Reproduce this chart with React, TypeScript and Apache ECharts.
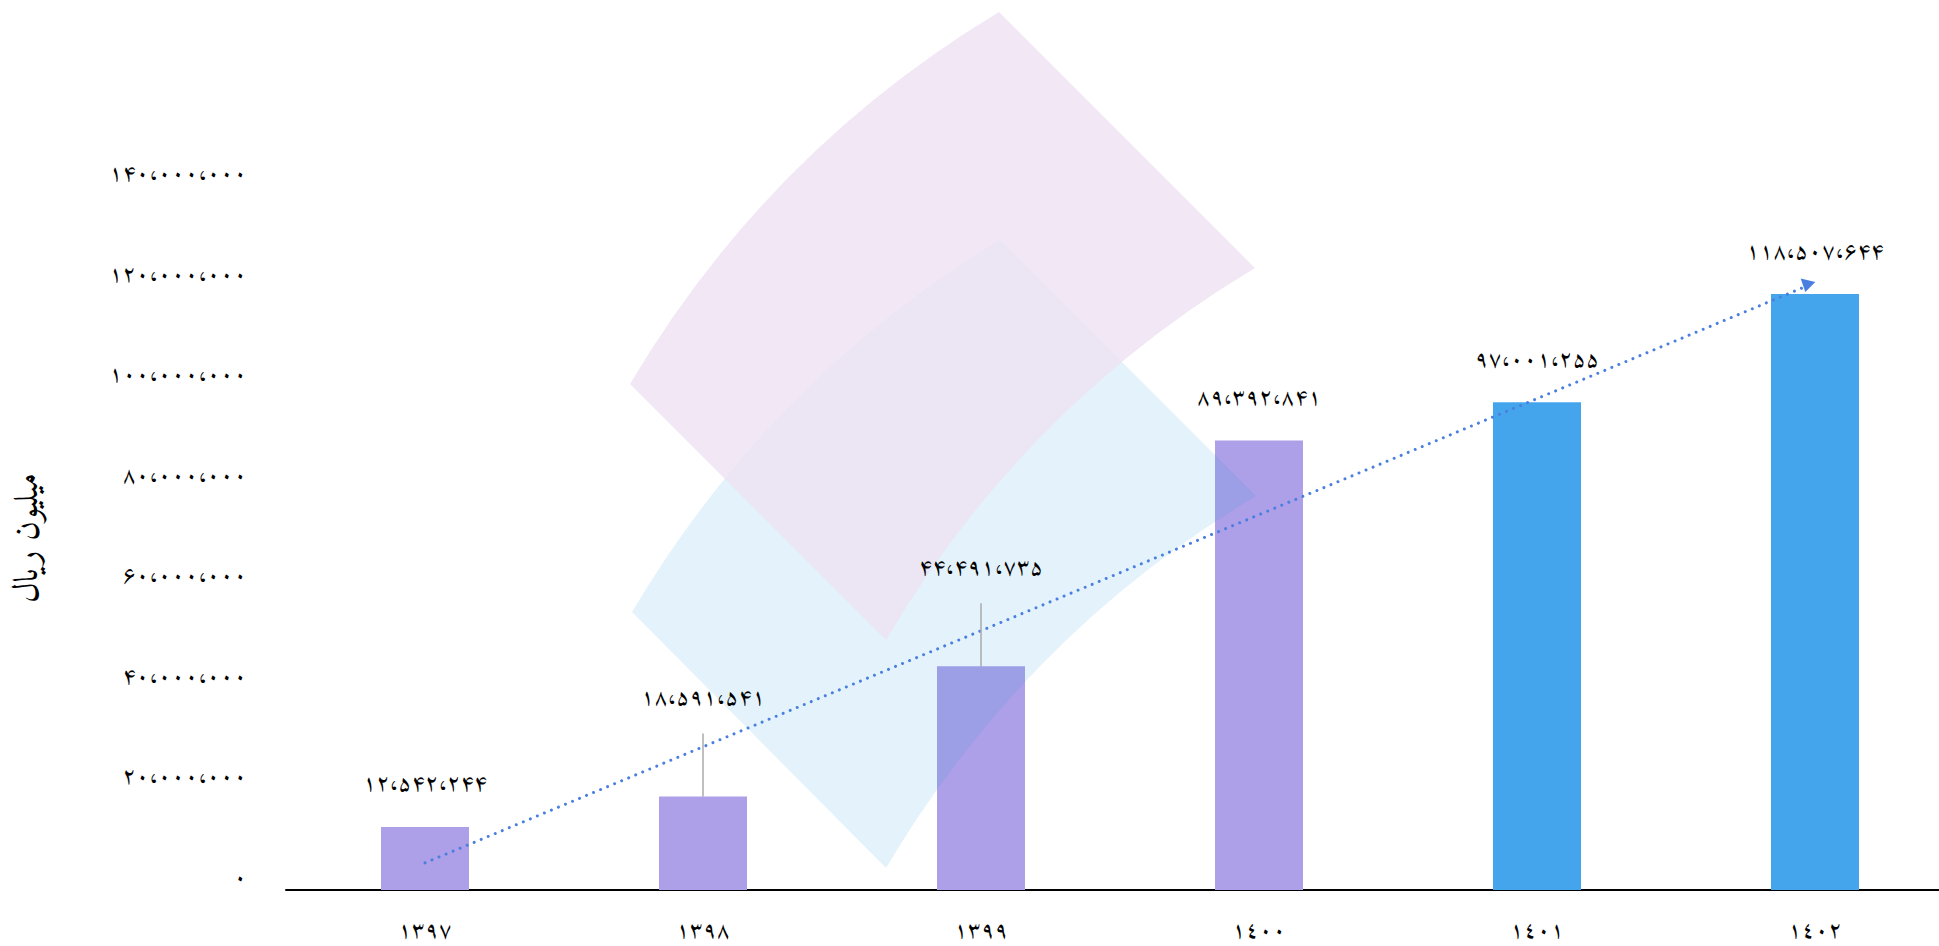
import React, { useEffect, useRef } from 'react';
import * as echarts from 'echarts';

// ---- data ----
const years = ['١٣٩٧', '١٣٩٨', '١٣٩٩', '١٤٠٠', '١٤٠١', '١٤٠٢'];
const values = [12542244, 18591541, 44491735, 89392841, 97001255, 118507644];
const barColors = ['#AD9FE8', '#AD9FE8', '#AD9FE8', '#AD9FE8', '#45A5EC', '#45A5EC'];
const movedLabels = [1, 2];
const trendStart = [0, 5400000];
const trendEnd = [4.97, 120100000];
const yMin = 0;
const yMax = 140000000;
const yInterval = 20000000;
const yAxisName = 'میلیون ریال';

const FONT = 'Amiri';
const faDigits = '۰۱۲۳۴۵۶۷۸۹';
function toFa(n: number): string {
  return Math.round(n)
    .toString()
    .replace(/\B(?=(\d{3})+(?!\d))/g, '،')
    .replace(/\d/g, (d) => faDigits[+d]);
}

// watermark logo shapes
const pinkPath = 'M630 384 Q768 151 999 12 L1255 268 Q1023 407 886 640 Z';
const bluePath = 'M632 612 Q770 379 1000 240 L1256 496 Q1024 635 886 868 Z';
let registered = false;
function registerLogo() {
  if (registered) return;
  registered = true;
  echarts.graphic.registerShape('logoPink', echarts.graphic.extendPath(pinkPath, {}));
  echarts.graphic.registerShape('logoBlue', echarts.graphic.extendPath(bluePath, {}));
}

export default function App() {
  const ref = useRef<HTMLDivElement>(null);
  useEffect(() => {
    if (!ref.current) return;
    registerLogo();
    const chart = echarts.init(ref.current, undefined, { renderer: 'svg' });
    const textColor = '#000';
    const option: any = {
      animation: false,
      backgroundColor: '#fff',
      textStyle: { fontFamily: FONT },
      grid: { left: 286, right: 0, top: 186, bottom: 56, containLabel: false },
      graphic: [
        {
          type: 'logoBlue',
          x: 0,
          y: 0,
          z: 10,
          silent: true,
          style: { fill: 'rgba(30,155,221,0.12)' },
        },
        {
          type: 'logoPink',
          x: 0,
          y: 0,
          z: 11,
          silent: true,
          style: { fill: 'rgba(238,224,242,0.74)' },
        },
      ],
      xAxis: [
        {
          type: 'category',
          data: years,
          axisLine: { lineStyle: { color: '#000', width: 2 } },
          axisTick: { show: false },
          axisLabel: { fontSize: 23, fontFamily: FONT, color: textColor, margin: 30 },
          splitLine: { show: false },
        },
        { type: 'value', min: -0.5, max: 5.5, show: false },
      ],
      yAxis: {
        type: 'value',
        min: yMin,
        max: yMax,
        interval: yInterval,
        axisLine: { show: false },
        axisTick: { show: false },
        splitLine: { show: false },
        axisLabel: {
          fontSize: 23,
          fontFamily: FONT,
          color: textColor,
          margin: 39,
          verticalAlign: 'bottom',
          formatter: (v: number) => toFa(v),
        },
        name: yAxisName,
        nameLocation: 'middle',
        nameRotate: 90,
        nameGap: 240,
        nameTextStyle: { fontSize: 34, fontFamily: FONT, color: textColor },
      },
      series: [
        {
          type: 'bar',
          barWidth: 88,
          barGap: '-100%',
          z: 2,
          data: values.map((v, i) => ({ value: v, itemStyle: { color: barColors[i] } })),
        },
        {
          type: 'bar',
          barWidth: 88,
          barGap: '-100%',
          z: 30,
          silent: true,
          data: values.map((v, i) => ({
            value: v,
            itemStyle: { color: 'rgba(0,0,0,0)' },
            labelLine: { show: movedLabels.includes(i) },
          })),
          label: {
            show: true,
            position: 'top',
            distance: 7,
            lineHeight: 70,
            fontSize: 23,
            fontFamily: FONT,
            color: textColor,
            formatter: (p: any) => toFa(p.value),
          },
          labelLine: { show: false, lineStyle: { color: '#aaa', width: 1.5 } },
          labelLayout: (p: any) => (movedLabels.includes(p.dataIndex) ? { dy: -56 } : {}),
        },
        {
          type: 'line',
          xAxisIndex: 1,
          z: 20,
          symbol: 'none',
          data: [trendStart, trendEnd],
          lineStyle: { color: '#4A7FDF', width: 3, type: [0.01, 7.6], cap: 'round' },
          markPoint: {
            symbol: 'triangle',
            symbolSize: [15, 12],
            symbolRotate: 167,
            silent: true,
            label: { show: false },
            itemStyle: { color: '#4A7FDF' },
            data: [{ coord: trendEnd }],
          },
        },
      ],
    };
    chart.setOption(option);
    return () => chart.dispose();
  }, []);
  return (
    <div
      ref={ref}
      style={{ position: 'fixed', left: 0, top: 0, width: 1954, height: 946 }}
    />
  );
}
